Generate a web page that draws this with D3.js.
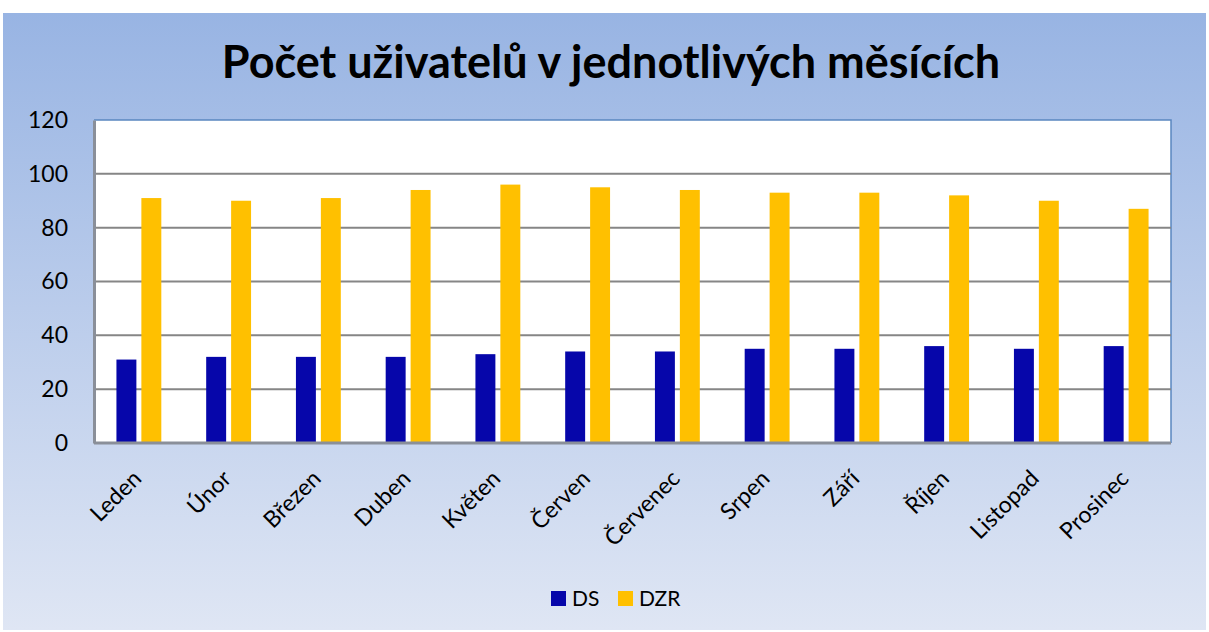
<!DOCTYPE html>
<html><head><meta charset="utf-8">
<script src="https://cdn.jsdelivr.net/npm/d3@7"></script>
<style>html,body{margin:0;padding:0;background:#fff;}svg{display:block;}</style>
</head><body>
<svg id="chart" width="1209" height="632"></svg>
<script>
const months = ["Leden","Únor","Březen","Duben","Květen","Červen","Červenec","Srpen","Září","Říjen","Listopad","Prosinec"];
const seriesNames = ["DS","DZR"];
const dsValues = [31,32,32,32,33,34,34,35,35,36,35,36];
const dzrValues = [91,90,91,94,96,95,94,93,93,92,90,87];
const yTicks = [0,20,40,60,80,100,120];
const colors = ["#0606AA","#FFC000"];
const title = "Počet uživatelů v jednotlivých měsících";

const data = months.map((m,i)=>({month:m, DS:dsValues[i], DZR:dzrValues[i]}));
const svg = d3.select("#chart");
const font = "Lato, 'Open Sans', sans-serif";

const defs = svg.append("defs");
const grad = defs.append("linearGradient").attr("id","bg").attr("x1",0).attr("y1",0).attr("x2",0).attr("y2",1);
grad.append("stop").attr("offset","0%").attr("stop-color","#98B4E3");
grad.append("stop").attr("offset","100%").attr("stop-color","#DFE6F4");
svg.append("rect").attr("x",3).attr("y",13).attr("width",1203).attr("height",617).attr("fill","url(#bg)");

const L=94, R=1171, T=120, B=443;
const x0 = d3.scaleBand().domain(months).range([L,R]).paddingInner(0.5).paddingOuter(0.25);
const x1 = d3.scaleBand().domain(seriesNames).range([0,x0.bandwidth()]).paddingInner(0.2);
const y = d3.scaleLinear().domain([0,120]).range([B,T]);

svg.append("rect").attr("x",L).attr("y",T).attr("width",R-L).attr("height",B-T).attr("fill","#fff");
svg.append("path").attr("d",`M${L},${T}H${R}V${B}`).attr("fill","none").attr("stroke","#5A86C0").attr("stroke-width",1.5);

svg.append("g").selectAll("line").data(yTicks.filter(t=>t>0 && t<120)).join("line")
  .attr("x1",L).attr("x2",R).attr("y1",d=>y(d)).attr("y2",d=>y(d))
  .attr("stroke","#868686").attr("stroke-width",2);

const g = svg.append("g");
g.selectAll("g").data(data).join("g").attr("transform",d=>`translate(${x0(d.month)},0)`)
 .selectAll("rect").data(d=>seriesNames.map((s,i)=>({s,v:d[s],i}))).join("rect")
 .attr("x",d=>x1(d.s)).attr("width",x1.bandwidth())
 .attr("y",d=>y(d.v)).attr("height",d=>y(0)-y(d.v))
 .attr("fill",d=>colors[d.i]);

const yAxis = d3.axisLeft(y).tickValues(yTicks).tickSize(0).tickPadding(26);
const ya = svg.append("g").attr("transform",`translate(${L},0)`).call(yAxis);
ya.select(".domain").attr("stroke","#8A8F99").attr("stroke-width",3);
ya.selectAll("text").attr("font-family",font).attr("font-size",23).attr("fill","#000");

const xAxis = d3.axisBottom(x0).tickSize(0).tickPadding(0);
const xa = svg.append("g").attr("transform",`translate(0,${B})`).call(xAxis);
xa.select(".domain").attr("stroke","#8A8F99").attr("stroke-width",3).attr("d",`M${L},0H${R}`);
xa.selectAll("text").attr("font-family",font).attr("font-size",23).attr("fill","#000")
  .attr("text-anchor","end").attr("dy",0)
  .attr("transform","translate(4,37) rotate(-45)");

svg.append("text").attr("x",611).attr("y",78).attr("text-anchor","middle")
  .attr("font-family",font).attr("font-weight","bold").attr("font-size",45)
  .attr("fill","#000").text(title);

const leg = svg.append("g").attr("transform","translate(551,591)");
const items = [{n:"DS",x:0},{n:"DZR",x:67}];
items.forEach((it,i)=>{
  leg.append("rect").attr("x",it.x).attr("y",0).attr("width",15).attr("height",15).attr("fill",colors[i]);
  leg.append("text").attr("x",it.x+21).attr("y",15).attr("font-family",font).attr("font-size",21).attr("fill","#000").text(it.n);
});
</script>
</body></html>
